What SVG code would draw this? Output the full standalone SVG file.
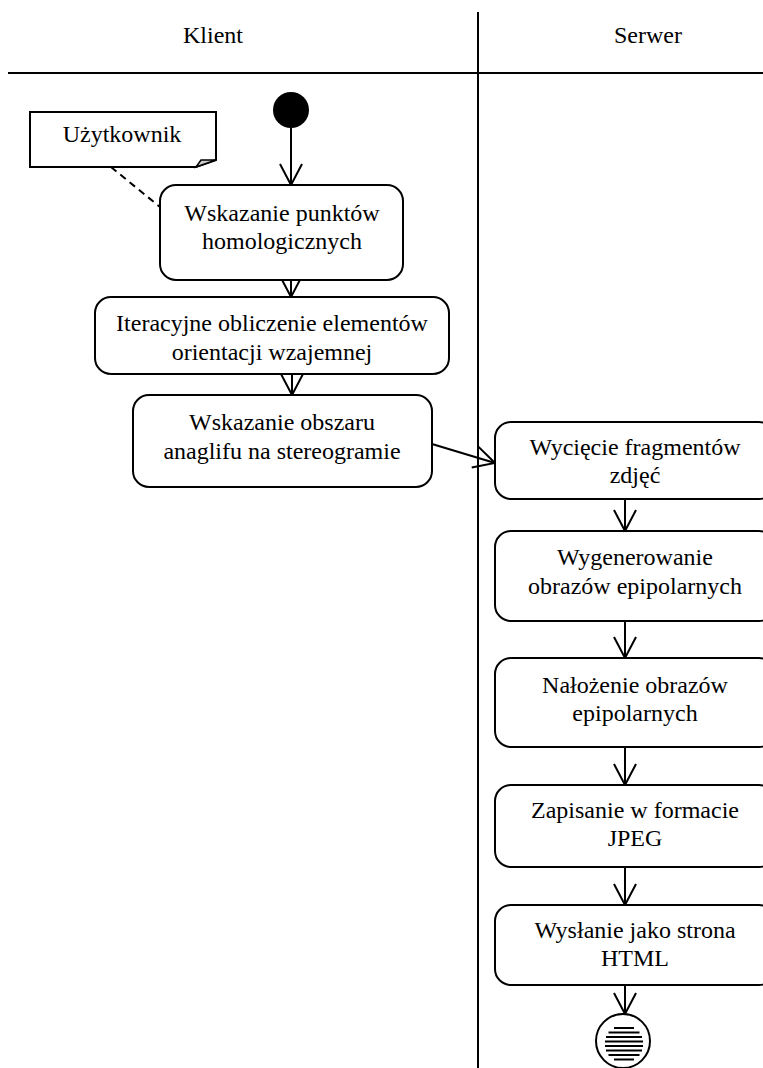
<svg xmlns="http://www.w3.org/2000/svg" width="763" height="1068" viewBox="0 0 763 1068">
<defs>
<style>
text{font-family:"Liberation Serif","Times New Roman",serif;font-size:24px;fill:#000;text-anchor:middle}
.box{fill:#fff;stroke:#000;stroke-width:2}
.ln{fill:none;stroke:#000;stroke-width:2}
.lane{fill:none;stroke:#000;stroke-width:2}
</style>
<marker id="open" markerUnits="userSpaceOnUse" markerWidth="24" markerHeight="26" viewBox="-1 -1 24 26" refX="21" refY="11" orient="auto">
<path d="M0,0 L21,11 L0,22" fill="none" stroke="#000" stroke-width="2"/>
</marker>
</defs>
<rect width="763" height="1068" fill="#fff"/>
<g id="lanes">
<line class="lane" x1="8" y1="73" x2="763" y2="73"/>
<line class="lane" x1="478" y1="12" x2="478" y2="1068"/>
<text x="213" y="43">Klient</text>
<text x="648" y="43">Serwer</text>
</g>
<g id="connectors">
<line class="ln" x1="291" y1="128" x2="291" y2="185" marker-end="url(#open)"/>
<line class="ln" x1="291" y1="280" x2="291" y2="297" marker-end="url(#open)"/>
<line class="ln" x1="292" y1="374" x2="292" y2="395" marker-end="url(#open)"/>
<line class="ln" x1="432" y1="444" x2="495" y2="463" marker-end="url(#open)"/>
<line class="ln" x1="625" y1="499" x2="625" y2="531" marker-end="url(#open)"/>
<line class="ln" x1="625" y1="621" x2="625" y2="658" marker-end="url(#open)"/>
<line class="ln" x1="625" y1="747" x2="625" y2="785" marker-end="url(#open)"/>
<line class="ln" x1="625" y1="867" x2="625" y2="905" marker-end="url(#open)"/>
<line class="ln" x1="625" y1="985" x2="625" y2="1014" marker-end="url(#open)"/>
<line class="ln" x1="111" y1="167" x2="160" y2="207" stroke-dasharray="7,5"/>
</g>
<g id="start">
<circle cx="291" cy="110" r="18" fill="#000"/>
</g>
<g id="note">
<path class="box" d="M30,112 H216 V160 L196,167 H30 Z"/>
<path d="M196,167 L201,160 L216,160 Z" fill="#ccc" stroke="#000" stroke-width="1.5"/>
<text x="122" y="142">Użytkownik</text>
</g>
<g id="n1">
<rect class="box" x="160" y="185" width="243" height="95" rx="16"/>
<text x="282" y="221">Wskazanie punktów</text>
<text x="282" y="249">homologicznych</text>
</g>
<g id="n2">
<rect class="box" x="95" y="297" width="354" height="77" rx="16"/>
<text x="272" y="331">Iteracyjne obliczenie elementów</text>
<text x="272" y="360">orientacji wzajemnej</text>
</g>
<g id="n3">
<rect class="box" x="133" y="395" width="299" height="92" rx="16"/>
<text x="282" y="430">Wskazanie obszaru</text>
<text x="282" y="459">anaglifu na stereogramie</text>
</g>
<g id="s1">
<rect class="box" x="495" y="422" width="280" height="77" rx="16"/>
<text x="635" y="455">Wycięcie fragmentów</text>
<text x="635" y="483">zdjęć</text>
</g>
<g id="s2">
<rect class="box" x="495" y="531" width="280" height="90" rx="16"/>
<text x="635" y="565">Wygenerowanie</text>
<text x="635" y="594">obrazów epipolarnych</text>
</g>
<g id="s3">
<rect class="box" x="495" y="658" width="280" height="89" rx="16"/>
<text x="635" y="693">Nałożenie obrazów</text>
<text x="635" y="721">epipolarnych</text>
</g>
<g id="s4">
<rect class="box" x="495" y="785" width="280" height="82" rx="16"/>
<text x="635" y="818">Zapisanie w formacie</text>
<text x="635" y="846">JPEG</text>
</g>
<g id="s5">
<rect class="box" x="495" y="905" width="280" height="80" rx="16"/>
<text x="635" y="938">Wysłanie jako strona</text>
<text x="635" y="966">HTML</text>
</g>
<g id="end">
<circle class="box" cx="623" cy="1041" r="27"/>
<g class="ln" stroke-width="1.5">
<line x1="614" y1="1028" x2="634" y2="1028"/>
<line x1="608.5" y1="1032.5" x2="639.5" y2="1032.5"/>
<line x1="606" y1="1037" x2="642" y2="1037"/>
<line x1="605" y1="1041.5" x2="643" y2="1041.5"/>
<line x1="605" y1="1046" x2="643" y2="1046"/>
<line x1="606" y1="1050.5" x2="642" y2="1050.5"/>
<line x1="608.5" y1="1055" x2="639.5" y2="1055"/>
<line x1="614" y1="1059.5" x2="634" y2="1059.5"/>
</g>
</g>
</svg>
